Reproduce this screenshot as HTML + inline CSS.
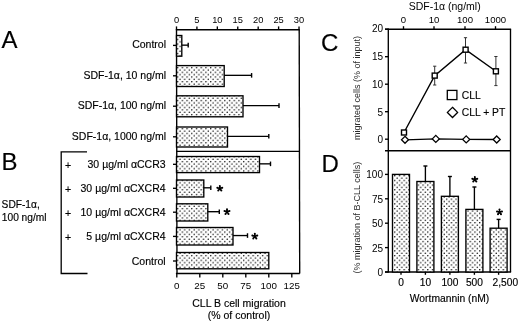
<!DOCTYPE html>
<html><head><meta charset="utf-8"><style>
html,body{margin:0;padding:0;background:#fff;}
svg{display:block;will-change:transform;font-family:"Liberation Sans",sans-serif;fill:#111;}
text{fill:#000;} .b{stroke:#000;stroke-width:0.15px;}
</style></head><body>
<svg width="520" height="323" viewBox="0 0 520 323">
<defs><pattern id="dots" patternUnits="userSpaceOnUse" x="178.82" y="68.82" width="4.72" height="4.7">
<rect width="4.72" height="4.7" fill="#fff"/>
<circle cx="1.18" cy="1.18" r="0.75" fill="#000"/><circle cx="3.54" cy="3.53" r="0.75" fill="#000"/>
</pattern></defs>
<rect width="520" height="323" fill="#fff"/>
<text x="1.5" y="47.9" font-size="24" text-anchor="start" class="b" >A</text>
<text x="1.5" y="169.5" font-size="24" text-anchor="start" class="b" >B</text>
<text x="321" y="50.8" font-size="24" text-anchor="start" class="b" >C</text>
<text x="321.6" y="172.3" font-size="24" text-anchor="start" class="b" >D</text>
<line x1="176.5" y1="29.1" x2="177" y2="274.1" stroke="#000" stroke-width="1.35"/>
<line x1="175.9" y1="29.7" x2="299.8" y2="29.7" stroke="#000" stroke-width="1.35"/>
<line x1="299.2" y1="29.7" x2="299.7" y2="273.5" stroke="#000" stroke-width="1.35"/>
<line x1="176.5" y1="151.3" x2="299.2" y2="151.3" stroke="#000" stroke-width="1.35"/>
<line x1="175.9" y1="273.5" x2="299.8" y2="273.5" stroke="#000" stroke-width="1.35"/>
<line x1="176.5" y1="26.4" x2="176.5" y2="29.7" stroke="#000" stroke-width="1.35"/>
<text x="176.5" y="23" font-size="9.3" text-anchor="middle" >0</text>
<line x1="196.92" y1="26.4" x2="196.92" y2="29.7" stroke="#000" stroke-width="1.35"/>
<text x="196.92" y="23" font-size="9.3" text-anchor="middle" >5</text>
<line x1="217.34" y1="26.4" x2="217.34" y2="29.7" stroke="#000" stroke-width="1.35"/>
<text x="217.34" y="23" font-size="9.3" text-anchor="middle" >10</text>
<line x1="237.76" y1="26.4" x2="237.76" y2="29.7" stroke="#000" stroke-width="1.35"/>
<text x="237.76" y="23" font-size="9.3" text-anchor="middle" >15</text>
<line x1="258.18" y1="26.4" x2="258.18" y2="29.7" stroke="#000" stroke-width="1.35"/>
<text x="258.18" y="23" font-size="9.3" text-anchor="middle" >20</text>
<line x1="278.6" y1="26.4" x2="278.6" y2="29.7" stroke="#000" stroke-width="1.35"/>
<text x="278.6" y="23" font-size="9.3" text-anchor="middle" >25</text>
<line x1="299.02" y1="26.4" x2="299.02" y2="29.7" stroke="#000" stroke-width="1.35"/>
<text x="299.02" y="23" font-size="9.3" text-anchor="middle" >30</text>
<line x1="176.8" y1="273.5" x2="176.8" y2="277.6" stroke="#000" stroke-width="1.35"/>
<text x="176.8" y="288.8" font-size="9.8" text-anchor="middle" >0</text>
<line x1="199.8" y1="273.5" x2="199.8" y2="277.6" stroke="#000" stroke-width="1.35"/>
<text x="199.8" y="288.8" font-size="9.8" text-anchor="middle" >25</text>
<line x1="222.8" y1="273.5" x2="222.8" y2="277.6" stroke="#000" stroke-width="1.35"/>
<text x="222.8" y="288.8" font-size="9.8" text-anchor="middle" >50</text>
<line x1="245.8" y1="273.5" x2="245.8" y2="277.6" stroke="#000" stroke-width="1.35"/>
<text x="245.8" y="288.8" font-size="9.8" text-anchor="middle" >75</text>
<line x1="268.8" y1="273.5" x2="268.8" y2="277.6" stroke="#000" stroke-width="1.35"/>
<text x="268.8" y="288.8" font-size="9.8" text-anchor="middle" >100</text>
<line x1="291.8" y1="273.5" x2="291.8" y2="277.6" stroke="#000" stroke-width="1.35"/>
<text x="291.8" y="288.8" font-size="9.8" text-anchor="middle" >125</text>
<text x="239" y="306.8" font-size="10.5" text-anchor="middle" class="b" >CLL B cell migration</text>
<text x="239" y="318.5" font-size="10.5" text-anchor="middle" class="b" >(% of control)</text>
<rect x="176.5" y="35.5" width="5.3" height="20.7" fill="url(#dots)" stroke="#000" stroke-width="1.35"/>
<line x1="181.8" y1="45.15" x2="188.2" y2="45.15" stroke="#000" stroke-width="1.35"/>
<line x1="188.2" y1="42.85" x2="188.2" y2="47.45" stroke="#000" stroke-width="1.4"/>
<line x1="173" y1="45.4" x2="176.5" y2="45.4" stroke="#000" stroke-width="1.35"/>
<text x="166" y="48.4" font-size="10.5" text-anchor="end" class="b" >Control</text>
<rect x="176.5" y="65.6" width="47.7" height="20.9" fill="url(#dots)" stroke="#000" stroke-width="1.35"/>
<line x1="224.2" y1="75.35" x2="251.6" y2="75.35" stroke="#000" stroke-width="1.35"/>
<line x1="251.6" y1="73.05" x2="251.6" y2="77.65" stroke="#000" stroke-width="1.4"/>
<line x1="173" y1="75.8" x2="176.5" y2="75.8" stroke="#000" stroke-width="1.35"/>
<text x="166" y="78.8" font-size="10.5" text-anchor="end" class="b" >SDF-1α, 10 ng/ml</text>
<rect x="176.5" y="95.8" width="66.5" height="21" fill="url(#dots)" stroke="#000" stroke-width="1.35"/>
<line x1="243" y1="105.6" x2="279" y2="105.6" stroke="#000" stroke-width="1.35"/>
<line x1="279" y1="103.3" x2="279" y2="107.9" stroke="#000" stroke-width="1.4"/>
<line x1="173" y1="106.2" x2="176.5" y2="106.2" stroke="#000" stroke-width="1.35"/>
<text x="166" y="109.2" font-size="10.5" text-anchor="end" class="b" >SDF-1α, 100 ng/ml</text>
<rect x="176.5" y="127" width="51" height="20" fill="url(#dots)" stroke="#000" stroke-width="1.35"/>
<line x1="227.5" y1="136.3" x2="268.8" y2="136.3" stroke="#000" stroke-width="1.35"/>
<line x1="268.8" y1="134" x2="268.8" y2="138.6" stroke="#000" stroke-width="1.4"/>
<line x1="173" y1="136.8" x2="176.5" y2="136.8" stroke="#000" stroke-width="1.35"/>
<text x="166" y="139.8" font-size="10.5" text-anchor="end" class="b" >SDF-1α, 1000 ng/ml</text>
<rect x="176.5" y="156.5" width="83" height="16.1" fill="url(#dots)" stroke="#000" stroke-width="1.35"/>
<line x1="259.5" y1="163.85" x2="270.5" y2="163.85" stroke="#000" stroke-width="1.35"/>
<line x1="270.5" y1="161.55" x2="270.5" y2="166.15" stroke="#000" stroke-width="1.4"/>
<line x1="173" y1="164.3" x2="176.5" y2="164.3" stroke="#000" stroke-width="1.35"/>
<text x="165.6" y="168.3" font-size="10.5" text-anchor="end" class="b" >30 µg/ml αCCR3</text>
<text x="68" y="168.8" font-size="10.5" text-anchor="middle" class="b" >+</text>
<rect x="176.5" y="180" width="27.3" height="17" fill="url(#dots)" stroke="#000" stroke-width="1.35"/>
<line x1="203.8" y1="187.8" x2="210.8" y2="187.8" stroke="#000" stroke-width="1.35"/>
<line x1="210.8" y1="185.5" x2="210.8" y2="190.1" stroke="#000" stroke-width="1.4"/>
<line x1="173" y1="188.3" x2="176.5" y2="188.3" stroke="#000" stroke-width="1.35"/>
<text x="165.6" y="192.3" font-size="10.5" text-anchor="end" class="b" >30 µg/ml αCXCR4</text>
<text x="68" y="192.8" font-size="10.5" text-anchor="middle" class="b" >+</text>
<rect x="176.5" y="203.8" width="31.3" height="17.2" fill="url(#dots)" stroke="#000" stroke-width="1.35"/>
<line x1="207.8" y1="211.7" x2="219.3" y2="211.7" stroke="#000" stroke-width="1.35"/>
<line x1="219.3" y1="209.4" x2="219.3" y2="214" stroke="#000" stroke-width="1.4"/>
<line x1="173" y1="212.2" x2="176.5" y2="212.2" stroke="#000" stroke-width="1.35"/>
<text x="165.6" y="216.2" font-size="10.5" text-anchor="end" class="b" >10 µg/ml αCXCR4</text>
<text x="68" y="216.7" font-size="10.5" text-anchor="middle" class="b" >+</text>
<rect x="176.5" y="227.5" width="56.5" height="17.5" fill="url(#dots)" stroke="#000" stroke-width="1.35"/>
<line x1="233" y1="235.55" x2="247.5" y2="235.55" stroke="#000" stroke-width="1.35"/>
<line x1="247.5" y1="233.25" x2="247.5" y2="237.85" stroke="#000" stroke-width="1.4"/>
<line x1="173" y1="236.4" x2="176.5" y2="236.4" stroke="#000" stroke-width="1.35"/>
<text x="165.6" y="240.4" font-size="10.5" text-anchor="end" class="b" >5 µg/ml αCXCR4</text>
<text x="68" y="240.9" font-size="10.5" text-anchor="middle" class="b" >+</text>
<rect x="176.5" y="252.5" width="92.3" height="16.3" fill="url(#dots)" stroke="#000" stroke-width="1.35"/>
<line x1="173" y1="261" x2="176.5" y2="261" stroke="#000" stroke-width="1.35"/>
<text x="165.6" y="265" font-size="10.5" text-anchor="end" class="b" >Control</text>
<g fill="#000"><path d="M219.8 188.5L219.8 185.9M219.8 188.5L222.27 187.7M219.8 188.5L221.33 190.6M219.8 188.5L218.27 190.6M219.8 188.5L217.33 187.7" stroke="#000" stroke-width="1.45" fill="none"/><circle cx="219.8" cy="185.9" r="1.0"/><circle cx="222.27" cy="187.7" r="1.0"/><circle cx="221.33" cy="190.6" r="1.0"/><circle cx="218.27" cy="190.6" r="1.0"/><circle cx="217.33" cy="187.7" r="1.0"/></g>
<g fill="#000"><path d="M227 211.8L227 209.2M227 211.8L229.47 211M227 211.8L228.53 213.9M227 211.8L225.47 213.9M227 211.8L224.53 211" stroke="#000" stroke-width="1.45" fill="none"/><circle cx="227" cy="209.2" r="1.0"/><circle cx="229.47" cy="211" r="1.0"/><circle cx="228.53" cy="213.9" r="1.0"/><circle cx="225.47" cy="213.9" r="1.0"/><circle cx="224.53" cy="211" r="1.0"/></g>
<g fill="#000"><path d="M254.8 236.3L254.8 233.7M254.8 236.3L257.27 235.5M254.8 236.3L256.33 238.4M254.8 236.3L253.27 238.4M254.8 236.3L252.33 235.5" stroke="#000" stroke-width="1.45" fill="none"/><circle cx="254.8" cy="233.7" r="1.0"/><circle cx="257.27" cy="235.5" r="1.0"/><circle cx="256.33" cy="238.4" r="1.0"/><circle cx="253.27" cy="238.4" r="1.0"/><circle cx="252.33" cy="235.5" r="1.0"/></g>
<path d="M87 151.9H61.2V273.5H87.5" fill="none" stroke="#000" stroke-width="1.3"/>
<text x="1.6" y="207.7" font-size="10.2" text-anchor="start" class="b" >SDF-1α,</text>
<text x="1.8" y="220.7" font-size="10.2" text-anchor="start" class="b" >100 ng/ml</text>
<line x1="388.3" y1="28.6" x2="388.3" y2="272.6" stroke="#000" stroke-width="1.35"/>
<line x1="385" y1="29.2" x2="511.1" y2="29.2" stroke="#000" stroke-width="1.35"/>
<line x1="510.5" y1="29.2" x2="510.5" y2="272" stroke="#000" stroke-width="1.35"/>
<line x1="385" y1="150.7" x2="510.5" y2="150.7" stroke="#000" stroke-width="1.35"/>
<line x1="385" y1="272" x2="511.1" y2="272" stroke="#000" stroke-width="1.35"/>
<line x1="385" y1="29.2" x2="388.3" y2="29.2" stroke="#000" stroke-width="1.35"/>
<text x="383" y="32" font-size="10" text-anchor="end" >20</text>
<line x1="385" y1="56.7" x2="388.3" y2="56.7" stroke="#000" stroke-width="1.35"/>
<text x="383" y="60.3" font-size="10" text-anchor="end" >15</text>
<line x1="385" y1="84.2" x2="388.3" y2="84.2" stroke="#000" stroke-width="1.35"/>
<text x="383" y="88.3" font-size="10" text-anchor="end" >10</text>
<line x1="385" y1="111.7" x2="388.3" y2="111.7" stroke="#000" stroke-width="1.35"/>
<text x="383" y="116.1" font-size="10" text-anchor="end" >5</text>
<line x1="385" y1="139.2" x2="388.3" y2="139.2" stroke="#000" stroke-width="1.35"/>
<text x="383" y="143.3" font-size="10" text-anchor="end" >0</text>
<line x1="403.5" y1="26.2" x2="403.5" y2="29.2" stroke="#000" stroke-width="1.35"/>
<text x="403.5" y="22.7" font-size="9.6" text-anchor="middle" >0</text>
<line x1="434" y1="26.2" x2="434" y2="29.2" stroke="#000" stroke-width="1.35"/>
<text x="434" y="22.7" font-size="9.6" text-anchor="middle" >10</text>
<line x1="465" y1="26.2" x2="465" y2="29.2" stroke="#000" stroke-width="1.35"/>
<text x="465" y="22.7" font-size="9.6" text-anchor="middle" >100</text>
<line x1="495.5" y1="26.2" x2="495.5" y2="29.2" stroke="#000" stroke-width="1.35"/>
<text x="495.5" y="22.7" font-size="9.6" text-anchor="middle" >1000</text>
<text x="444.7" y="9.6" font-size="10.5" text-anchor="middle" >SDF-1α (ng/ml)</text>
<text transform="translate(360.2,88) rotate(-90)" font-size="9" text-anchor="middle" style="fill:#2a2a2a">migrated cells (% of input)</text>
<line x1="434.7" y1="66.2" x2="434.7" y2="85" stroke="#333" stroke-width="1.0"/>
<line x1="433.1" y1="66.2" x2="436.3" y2="66.2" stroke="#333" stroke-width="1.0"/>
<line x1="433.1" y1="85" x2="436.3" y2="85" stroke="#333" stroke-width="1.0"/>
<line x1="465.5" y1="37.7" x2="465.5" y2="63" stroke="#333" stroke-width="1.0"/>
<line x1="463.9" y1="37.7" x2="467.1" y2="37.7" stroke="#333" stroke-width="1.0"/>
<line x1="463.9" y1="63" x2="467.1" y2="63" stroke="#333" stroke-width="1.0"/>
<line x1="495.9" y1="56.5" x2="495.9" y2="85.6" stroke="#333" stroke-width="1.0"/>
<line x1="494.3" y1="56.5" x2="497.5" y2="56.5" stroke="#333" stroke-width="1.0"/>
<line x1="494.3" y1="85.6" x2="497.5" y2="85.6" stroke="#333" stroke-width="1.0"/>
<polyline points="404,132.5 434.7,75.6 465.6,49.7 495.9,71.3" fill="none" stroke="#000" stroke-width="1.4"/>
<polyline points="405,139.8 435.8,138.9 466.2,139.4 496.7,139.5" fill="none" stroke="#000" stroke-width="1.3"/>
<rect x="401.5" y="130" width="5" height="5" fill="#fff" stroke="#000" stroke-width="1.4"/>
<rect x="432.2" y="73.1" width="5" height="5" fill="#fff" stroke="#000" stroke-width="1.4"/>
<rect x="463.1" y="47.2" width="5" height="5" fill="#fff" stroke="#000" stroke-width="1.4"/>
<rect x="493.4" y="68.8" width="5" height="5" fill="#fff" stroke="#000" stroke-width="1.4"/>
<path d="M405 136.3L408.5 139.8L405 143.3L401.5 139.8Z" fill="#fff" stroke="#000" stroke-width="1.3"/>
<path d="M435.8 135.4L439.3 138.9L435.8 142.4L432.3 138.9Z" fill="#fff" stroke="#000" stroke-width="1.3"/>
<path d="M466.2 135.9L469.7 139.4L466.2 142.9L462.7 139.4Z" fill="#fff" stroke="#000" stroke-width="1.3"/>
<path d="M496.7 136L500.2 139.5L496.7 143L493.2 139.5Z" fill="#fff" stroke="#000" stroke-width="1.3"/>
<rect x="447.3" y="90.4" width="9.6" height="9.2" fill="#fff" stroke="#000" stroke-width="1.3"/>
<path d="M452.5 107.3L457.6 112.4L452.5 117.5L447.4 112.4Z" fill="#fff" stroke="#000" stroke-width="1.3"/>
<text transform="translate(461.8,98.6) scale(0.89,1)" font-size="11.6" class="b">CLL</text>
<text transform="translate(461.8,116.3) scale(0.89,1)" font-size="11.6" class="b">CLL + PT</text>
<line x1="385" y1="174.4" x2="388.3" y2="174.4" stroke="#000" stroke-width="1.35"/>
<text x="383" y="178.4" font-size="10" text-anchor="end" >100</text>
<line x1="385" y1="198.8" x2="388.3" y2="198.8" stroke="#000" stroke-width="1.35"/>
<text x="383" y="202.8" font-size="10" text-anchor="end" >75</text>
<line x1="385" y1="223.2" x2="388.3" y2="223.2" stroke="#000" stroke-width="1.35"/>
<text x="383" y="227.2" font-size="10" text-anchor="end" >50</text>
<line x1="385" y1="247.6" x2="388.3" y2="247.6" stroke="#000" stroke-width="1.35"/>
<text x="383" y="251.6" font-size="10" text-anchor="end" >25</text>
<line x1="385" y1="272" x2="388.3" y2="272" stroke="#000" stroke-width="1.35"/>
<text x="383" y="276" font-size="10" text-anchor="end" >0</text>
<text transform="translate(360.2,217.7) rotate(-90)" font-size="9" text-anchor="middle" style="fill:#2a2a2a">(% migration of B-CLL cells)</text>
<rect x="392.5" y="174.4" width="17" height="97.6" fill="url(#dots)" stroke="#000" stroke-width="1.35"/>
<line x1="401" y1="272" x2="401" y2="274.8" stroke="#000" stroke-width="1.35"/>
<text x="401" y="286.1" font-size="10.2" text-anchor="middle" class="b" >0</text>
<line x1="425.4" y1="166" x2="425.4" y2="181.5" stroke="#000" stroke-width="1.35"/>
<line x1="423.4" y1="166" x2="427.4" y2="166" stroke="#000" stroke-width="1.4"/>
<rect x="416.9" y="181.5" width="17" height="90.5" fill="url(#dots)" stroke="#000" stroke-width="1.35"/>
<line x1="425.4" y1="272" x2="425.4" y2="274.8" stroke="#000" stroke-width="1.35"/>
<text x="425.4" y="286.1" font-size="10.2" text-anchor="middle" class="b" >10</text>
<line x1="449.9" y1="176.5" x2="449.9" y2="196.3" stroke="#000" stroke-width="1.35"/>
<line x1="447.9" y1="176.5" x2="451.9" y2="176.5" stroke="#000" stroke-width="1.4"/>
<rect x="441.4" y="196.3" width="17" height="75.7" fill="url(#dots)" stroke="#000" stroke-width="1.35"/>
<line x1="449.9" y1="272" x2="449.9" y2="274.8" stroke="#000" stroke-width="1.35"/>
<text x="449.9" y="286.1" font-size="10.2" text-anchor="middle" class="b" >100</text>
<line x1="474.4" y1="187" x2="474.4" y2="209.4" stroke="#000" stroke-width="1.35"/>
<line x1="472.4" y1="187" x2="476.4" y2="187" stroke="#000" stroke-width="1.4"/>
<rect x="465.9" y="209.4" width="17" height="62.6" fill="url(#dots)" stroke="#000" stroke-width="1.35"/>
<line x1="474.4" y1="272" x2="474.4" y2="274.8" stroke="#000" stroke-width="1.35"/>
<text x="474.4" y="286.1" font-size="10.2" text-anchor="middle" class="b" >500</text>
<line x1="498.6" y1="219.4" x2="498.6" y2="228.2" stroke="#000" stroke-width="1.35"/>
<line x1="496.6" y1="219.4" x2="500.6" y2="219.4" stroke="#000" stroke-width="1.4"/>
<rect x="490.1" y="228.2" width="17" height="43.8" fill="url(#dots)" stroke="#000" stroke-width="1.35"/>
<line x1="498.6" y1="272" x2="498.6" y2="274.8" stroke="#000" stroke-width="1.35"/>
<text x="492.6" y="286.1" font-size="10.2" text-anchor="start" class="b" >2,500</text>
<g fill="#000"><path d="M474.8 179.5L474.8 176.9M474.8 179.5L477.27 178.7M474.8 179.5L476.33 181.6M474.8 179.5L473.27 181.6M474.8 179.5L472.33 178.7" stroke="#000" stroke-width="1.45" fill="none"/><circle cx="474.8" cy="176.9" r="1.0"/><circle cx="477.27" cy="178.7" r="1.0"/><circle cx="476.33" cy="181.6" r="1.0"/><circle cx="473.27" cy="181.6" r="1.0"/><circle cx="472.33" cy="178.7" r="1.0"/></g>
<g fill="#000"><path d="M499.5 212.2L499.5 209.6M499.5 212.2L501.97 211.4M499.5 212.2L501.03 214.3M499.5 212.2L497.97 214.3M499.5 212.2L497.03 211.4" stroke="#000" stroke-width="1.45" fill="none"/><circle cx="499.5" cy="209.6" r="1.0"/><circle cx="501.97" cy="211.4" r="1.0"/><circle cx="501.03" cy="214.3" r="1.0"/><circle cx="497.97" cy="214.3" r="1.0"/><circle cx="497.03" cy="211.4" r="1.0"/></g>
<text x="449.5" y="301.7" font-size="10.3" text-anchor="middle" class="b" >Wortmannin (nM)</text>
</svg></body></html>
